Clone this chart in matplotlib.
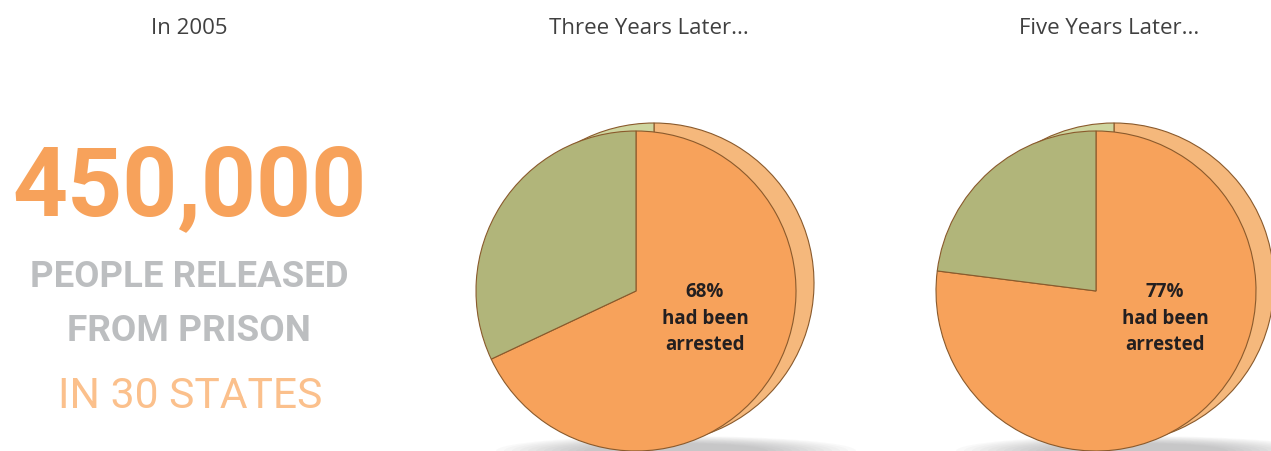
import matplotlib
matplotlib.use("Agg")
import matplotlib.pyplot as plt
from matplotlib import font_manager as fm
from matplotlib.patches import Ellipse

W, H = 1271, 452

# data
titles = ["In 2005", "Three Years Later...", "Five Years Later..."]
big_number = "450,000"
sub_lines = ["PEOPLE RELEASED", "FROM PRISON"]
states_line = "IN 30 STATES"
arrested = [68, 77]          # % re-arrested after 3 and 5 years
caption = ["had been", "arrested"]

# colours
orange = "#F7A25B"
green = "#B1B57A"
orange_back = "#F5B87C"
green_back = "#CED59F"
edge = "#8A5A2C"
grey_txt = "#BCBEC0"
light_orange = "#FBC08C"
dark = "#231F20"

installed = {f.name for f in fm.fontManager.ttflist}
narrow_name = "Roboto"
for cand in ["Liberation Sans Narrow", "DejaVu Sans Condensed"]:
    if cand in installed:
        narrow_name = cand
        break
narrow = [narrow_name, "DejaVu Sans"]
sans = ["Open Sans", "DejaVu Sans"]

fig = plt.figure(figsize=(W / 100, H / 100), dpi=100)
ax = fig.add_axes([0, 0, 1, 1])
ax.set_xlim(0, W)
ax.set_ylim(0, H)
ax.axis("off")
renderer = fig.canvas.get_renderer()

def yy(y_img):
    return H - y_img

def fit_text(x, y, s, width, max_fs, **kw):
    # shrink/grow font so the string spans roughly `width` pixels
    t = ax.text(x, yy(y), s, ha="center", va="baseline", fontsize=max_fs, **kw)
    w = t.get_window_extent(renderer).width
    t.set_fontsize(min(max_fs, max_fs * width / w))
    return t

# titles
title_x = [189, 649, 1109]
for t, x in zip(titles, title_x):
    ax.text(x, yy(34.5), t, ha="center", va="baseline", fontsize=16,
            family=sans, color="#404040")

# left block
fit_text(190, 215, big_number, 355, 88, family=narrow, fontweight="bold",
         color=orange)
fit_text(189, 287, sub_lines[0], 318, 34, family=narrow, fontweight="bold",
         color=grey_txt)
fit_text(189, 341, sub_lines[1], 244, 34, family=narrow, fontweight="bold",
         color=grey_txt)
fit_text(190, 408, states_line, 265, 36, family=narrow, color=light_orange)

# pies
centers = [(636, yy(292)), (1096, yy(292))]
r = 160
off = (18, 8)
for (cx, cy), pct in zip(centers, arrested):
    vals = [pct, 100 - pct]
    # soft shadow under the disc
    for i in range(12):
        ax.add_patch(Ellipse((cx + 40, yy(452)), 360 - i * 16, 30 - i * 1.3,
                             color="#6d6e70", alpha=0.035, lw=0, zorder=0))
    ax.pie(vals, colors=[orange_back, green_back], startangle=90,
           counterclock=False, radius=r, center=(cx + off[0], cy + off[1]),
           wedgeprops=dict(edgecolor=edge, linewidth=0.8, zorder=1))
    ax.pie(vals, colors=[orange, green], startangle=90,
           counterclock=False, radius=r, center=(cx, cy),
           wedgeprops=dict(edgecolor=edge, linewidth=0.8, zorder=2))
    lines = [f"{pct}%"] + caption
    for k, ln in enumerate(lines):
        ax.text(cx + 69, yy(297 + 26.5 * k), ln, ha="center", va="baseline",
                fontsize=13.5, family=sans, fontweight="bold", color=dark,
                zorder=5)

ax.set_xlim(0, W)
ax.set_ylim(0, H)
ax.set_aspect("equal")
ax.axis("off")

fig.savefig("out.png", dpi=100, facecolor="white")
